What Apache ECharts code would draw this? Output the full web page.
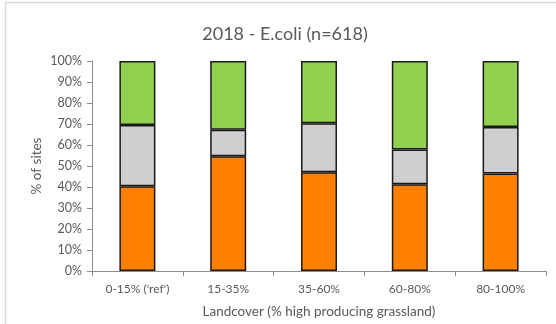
<!DOCTYPE html>
<html>
<head>
<meta charset="utf-8">
<script src="https://cdn.jsdelivr.net/npm/echarts@6/dist/echarts.min.js"></script>
<style>
  html, body { margin: 0; padding: 0; background: #fff; }
  #chart { width: 556px; height: 324px; }
</style>
</head>
<body>
<div id="chart"></div>
<script>
// Share of sites per landcover band, stacked to 100%
const categories = ["0-15% ('ref')", "15-35%", "35-60%", "60-80%", "80-100%"];
const orangeValues = [40.3, 54.6, 47.0, 41.3, 46.4];
const greyValues   = [29.2, 12.7, 23.3, 16.5, 22.2];
const greenValues  = [30.5, 32.7, 29.7, 42.2, 31.4];
const yTicks = [0, 10, 20, 30, 40, 50, 60, 70, 80, 90, 100];

const FONT = 'Lato, "Open Sans", sans-serif';
const TEXT = '#595959';

const chart = echarts.init(document.getElementById('chart'), null, { renderer: 'canvas' });

function seg(name, data, color) {
  return {
    name: name,
    type: 'bar',
    stack: 'total',
    barWidth: 36,
    data: data,
    itemStyle: { color: color, borderColor: '#1a1a1a', borderWidth: 1.5 },
    emphasis: { disabled: true }
  };
}

chart.setOption({
  animation: false,
  backgroundColor: '#ffffff',
  title: {
    text: '2018 - E.coli (n=618)',
    left: 280,
    top: 20,
    textAlign: 'center',
    textStyle: { fontFamily: FONT, fontSize: 18, fontWeight: 'normal', color: TEXT }
  },
  graphic: [{
    type: 'rect',
    shape: { x: 5.5, y: 2.5, width: 600, height: 400 },
    style: { fill: 'none', stroke: '#d9d9d9', lineWidth: 1.5 },
    silent: true
  }],
  grid: { left: 92, right: 10, top: 61, bottom: 53, containLabel: false, outerBoundsMode: 'none' },
  xAxis: {
    type: 'category',
    data: categories,
    name: 'Landcover (% high producing grassland)',
    nameLocation: 'middle',
    nameGap: 34,
    nameMoveOverlap: false,
    nameTextStyle: { fontFamily: FONT, fontSize: 13.5, color: TEXT },
    axisLine: { lineStyle: { color: '#8c8c8c', width: 1 } },
    axisTick: { show: true, length: 5, lineStyle: { color: '#8c8c8c' } },
    axisLabel: { fontFamily: FONT, fontSize: 12, color: TEXT, margin: 12, interval: 0 }
  },
  yAxis: {
    type: 'value',
    min: yTicks[0],
    max: yTicks[yTicks.length - 1],
    interval: 10,
    name: '% of sites',
    nameLocation: 'middle',
    nameGap: 48,
    nameMoveOverlap: false,
    nameTextStyle: { fontFamily: FONT, fontSize: 13.5, color: TEXT },
    axisLine: { show: true, lineStyle: { color: '#8c8c8c', width: 1 } },
    axisTick: { show: true, length: 5, lineStyle: { color: '#8c8c8c' } },
    splitLine: { show: false },
    axisLabel: { fontFamily: FONT, fontSize: 12.5, color: TEXT, margin: 10, formatter: '{value}%' }
  },
  series: [
    seg('Orange', orangeValues, '#ff8000'),
    seg('Grey', greyValues, '#d0cece'),
    seg('Green', greenValues, '#92d050')
  ]
});
</script>
</body>
</html>
